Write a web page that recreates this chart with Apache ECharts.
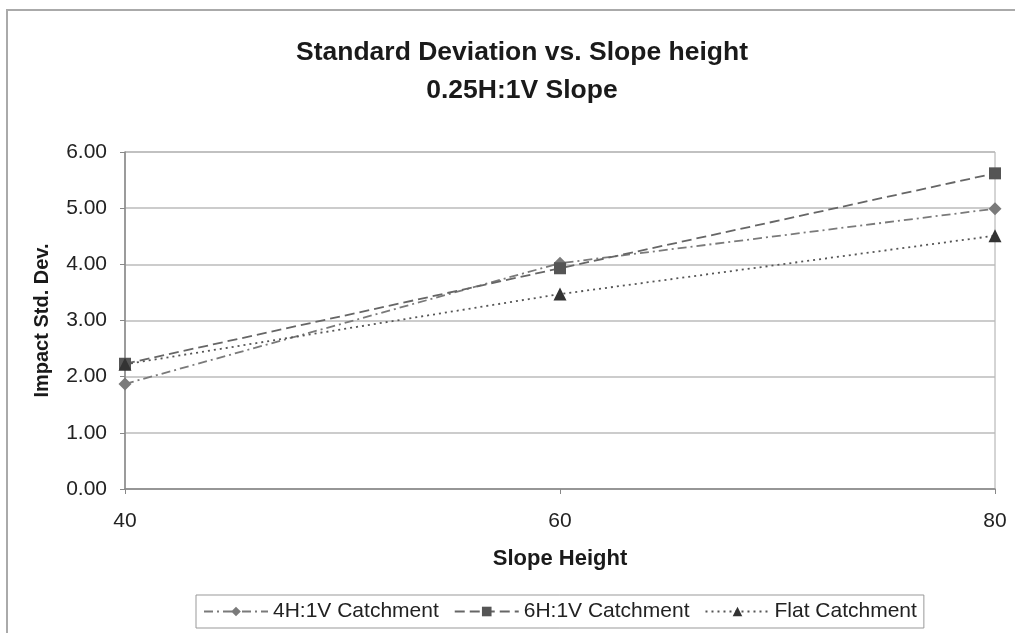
<!DOCTYPE html>
<html>
<head>
<meta charset="utf-8">
<script src="https://cdn.jsdelivr.net/npm/echarts@6/dist/echarts.min.js"></script>
<style>
html, body { margin: 0; padding: 0; background: #fff; }
#myChart { width: 1015px; height: 633px; }
</style>
</head>
<body>
<div id="myChart"></div>
<script>
const slopeHeights = [40, 60, 80]
const catch4H = [1.87, 4.02, 4.99]
const catch6H = [2.23, 3.93, 5.62]
const flatCatch = [2.22, 3.47, 4.51]
const seriesNames = ['4H:1V Catchment', '6H:1V Catchment', 'Flat Catchment']

function pairs(vals) {
  return slopeHeights.map((h, i) => [h, vals[i]])
}

let myChart = echarts.init(document.getElementById('myChart'))
myChart.setOption({
  animation: false,
  textStyle: { fontFamily: 'Liberation Sans, Arial, sans-serif', color: '#222' },
  title: {
    text: 'Standard Deviation vs. Slope height\n0.25H:1V Slope',
    left: 517,
    textAlign: 'center',
    top: 29,
    textStyle: { fontSize: 26.5, fontWeight: 'bold', color: '#1a1a1a', lineHeight: 38 }
  },
  graphic: [
    {
      type: 'rect',
      shape: { x: 7, y: 10, width: 1030, height: 650 },
      style: { fill: 'none', stroke: '#aaa', lineWidth: 2 },
      silent: true
    }
  ],
  legend: {
    top: 595,
    left: 196,
    itemWidth: 64,
    itemHeight: 12,
    itemGap: 15,
    padding: [6, 7],
    borderColor: '#999',
    borderWidth: 1,
    textStyle: { fontSize: 21, color: '#222' },
    data: seriesNames
  },
  grid: { left: 125, right: 20, top: 152, bottom: 144, show: true, borderColor: '#aaa', borderWidth: 1 },
  xAxis: {
    type: 'value',
    min: 40,
    max: 80,
    interval: 20,
    name: 'Slope Height',
    nameLocation: 'middle',
    nameGap: 59,
    nameTextStyle: { fontSize: 22, fontWeight: 'bold', color: '#1a1a1a' },
    axisLine: { lineStyle: { color: '#888', width: 1.5 } },
    axisTick: { show: true, length: 5, lineStyle: { color: '#888' } },
    axisLabel: { fontSize: 21, color: '#222', margin: 22 },
    splitLine: { show: false }
  },
  yAxis: {
    type: 'value',
    min: 0,
    max: 6,
    interval: 1,
    name: 'Impact Std. Dev.',
    nameLocation: 'middle',
    nameGap: 73,
    nameTextStyle: { fontSize: 20, fontWeight: 'bold', color: '#1a1a1a' },
    axisLine: { show: true, lineStyle: { color: '#888', width: 1.5 } },
    axisTick: { show: true, length: 5, lineStyle: { color: '#888' } },
    axisLabel: { fontSize: 21, color: '#222', margin: 18, formatter: v => v.toFixed(2) },
    splitLine: { lineStyle: { color: '#bbb', width: 1.5 } }
  },
  series: [
    {
      name: seriesNames[0],
      type: 'line',
      data: pairs(catch4H),
      symbol: 'diamond',
      symbolSize: 13,
      itemStyle: { color: '#7a7a7a' },
      lineStyle: { color: '#7a7a7a', width: 1.8, type: [9, 4, 2, 4] }
    },
    {
      name: seriesNames[1],
      type: 'line',
      data: pairs(catch6H),
      symbol: 'rect',
      symbolSize: 12,
      itemStyle: { color: '#555' },
      lineStyle: { color: '#666', width: 1.8, type: [10, 5] }
    },
    {
      name: seriesNames[2],
      type: 'line',
      data: pairs(flatCatch),
      symbol: 'triangle',
      symbolSize: 13,
      itemStyle: { color: '#333' },
      lineStyle: { color: '#555', width: 1.8, type: [2, 4] }
    }
  ]
})
</script>
</body>
</html>
